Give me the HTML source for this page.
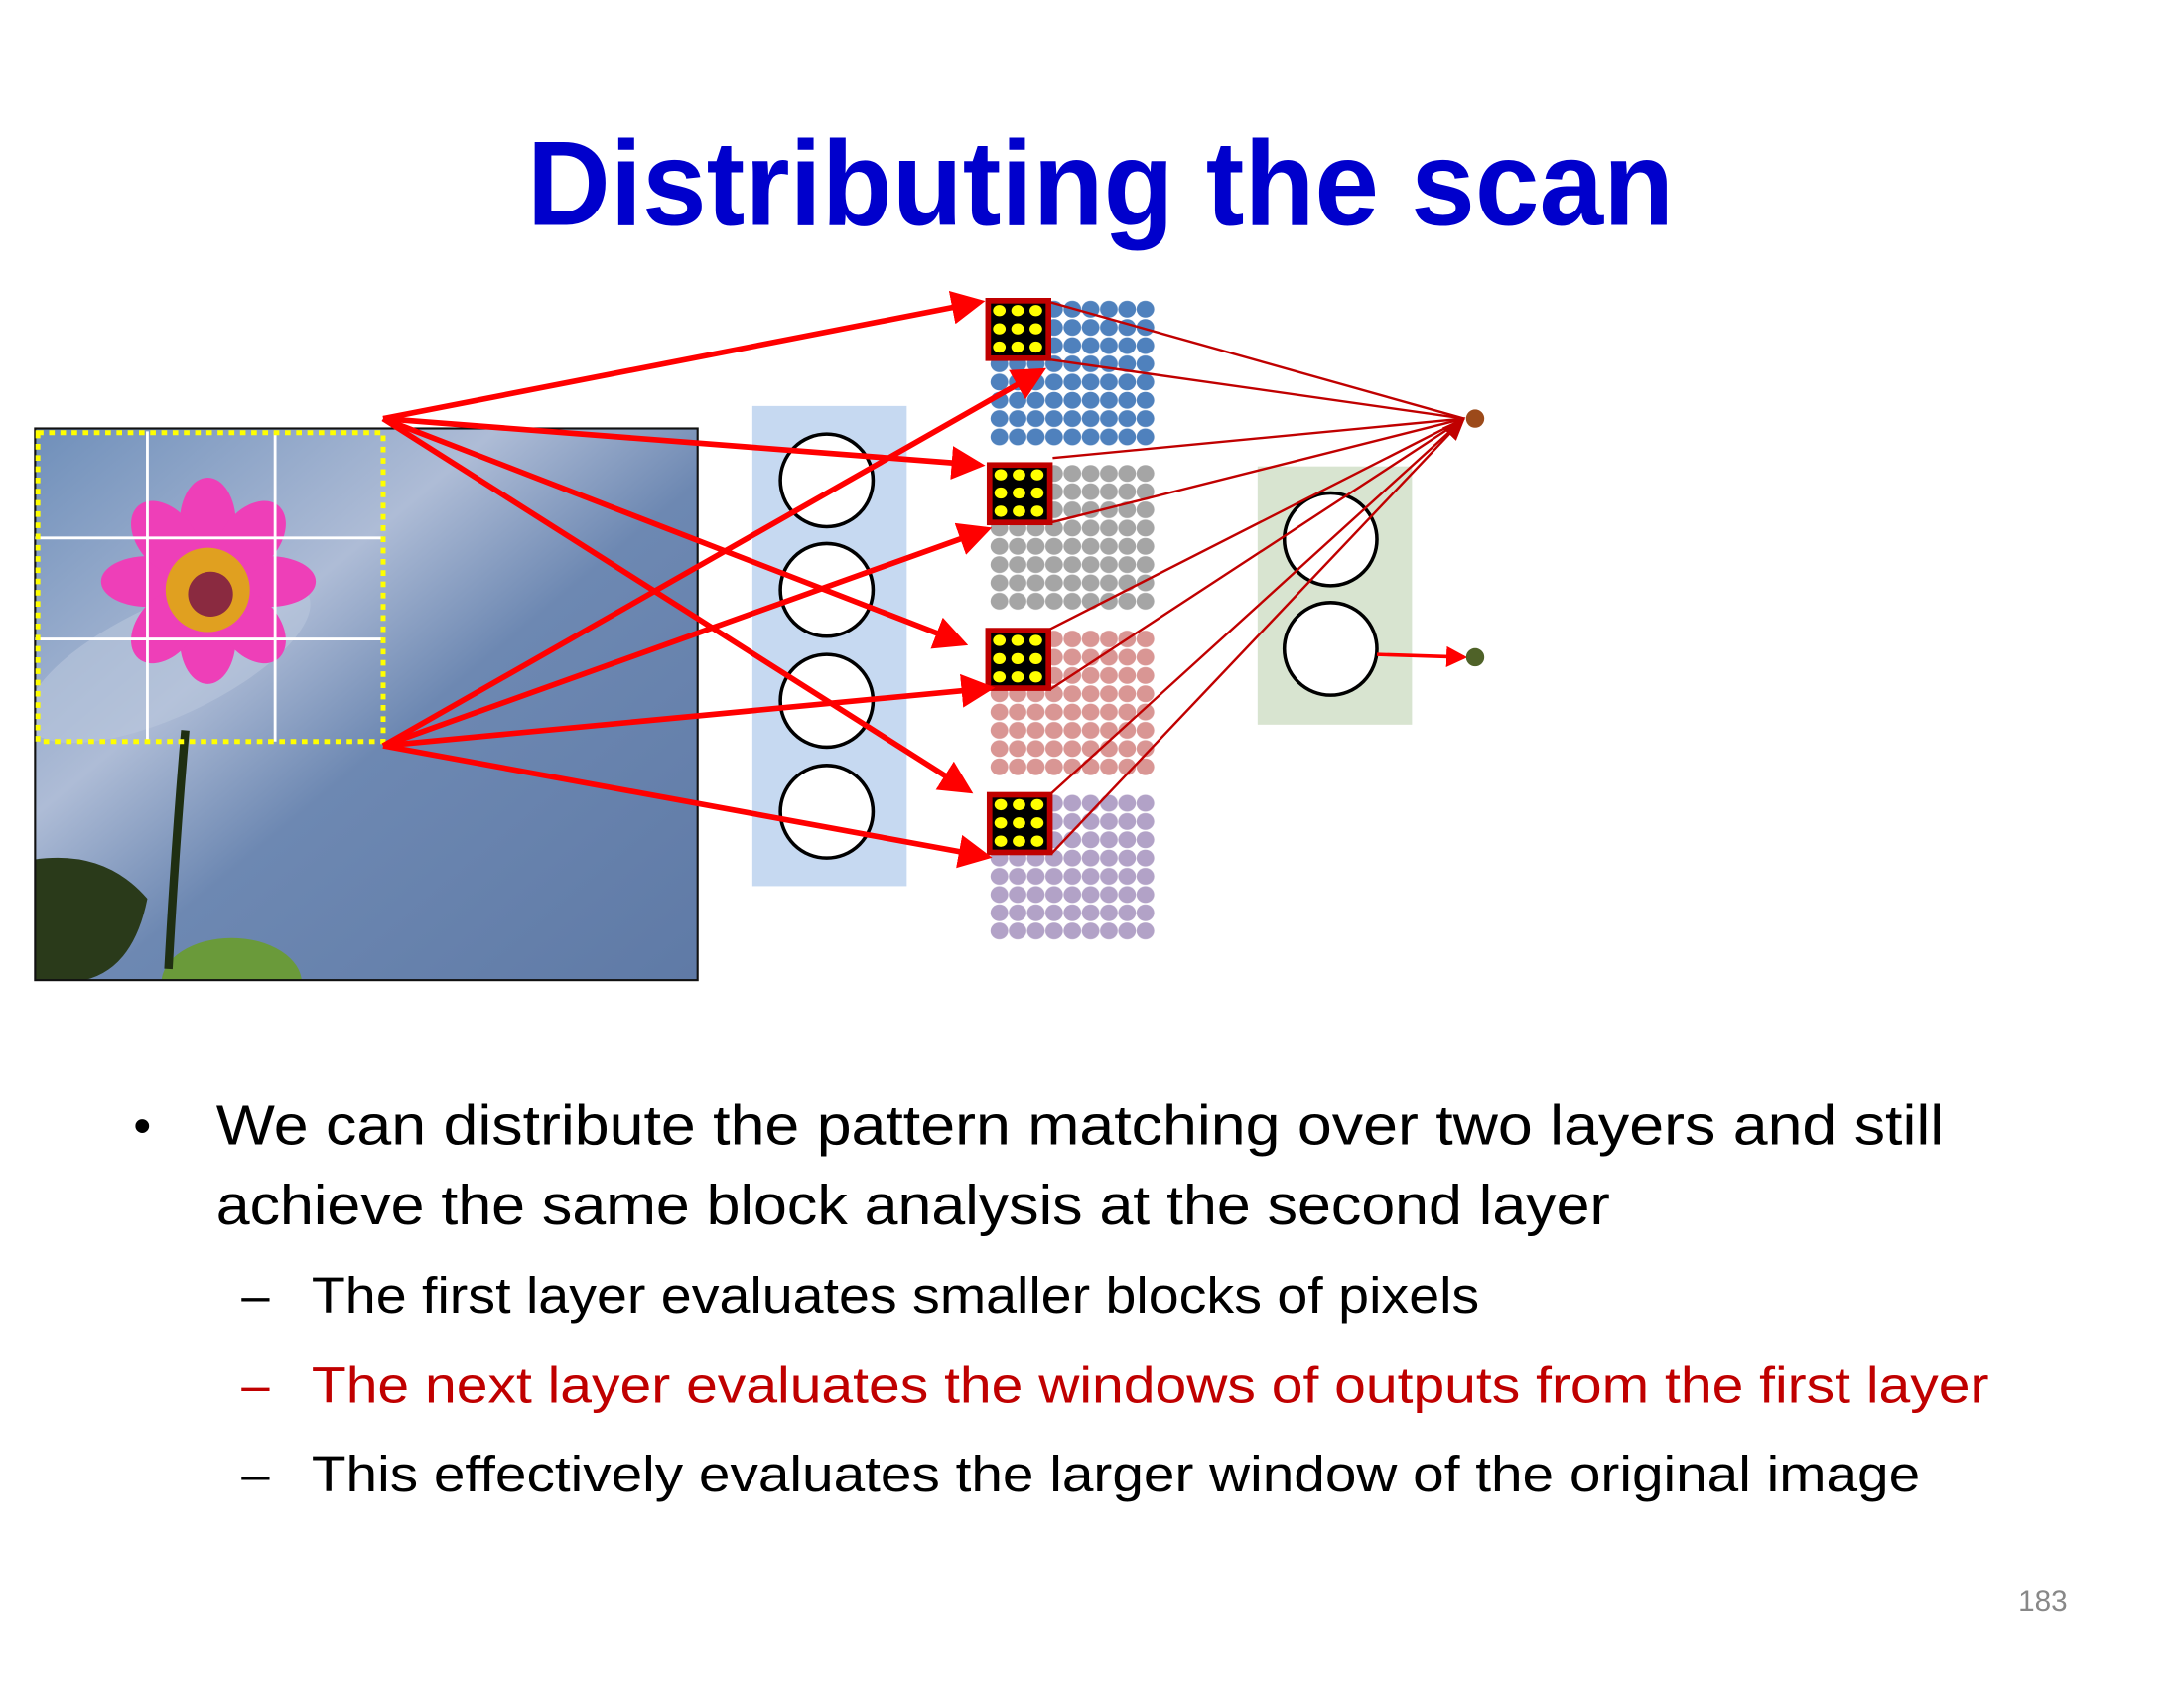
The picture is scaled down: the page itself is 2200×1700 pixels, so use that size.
<!DOCTYPE html>
<html><head><meta charset="utf-8"><style>html,body{margin:0;padding:0;background:#fff}svg{display:block}</style></head>
<body>
<svg width="2200" height="1700" viewBox="0 0 1556 1202" xmlns="http://www.w3.org/2000/svg" font-family="'Liberation Sans', sans-serif">
<defs>
<linearGradient id="sky" x1="0" y1="0" x2="1" y2="1">
<stop offset="0" stop-color="#6f8fba"/><stop offset="0.35" stop-color="#aebcd6"/><stop offset="0.55" stop-color="#6d88b2"/><stop offset="1" stop-color="#5f7aa6"/></linearGradient>
<clipPath id="imgclip"><rect x="25" y="305" width="472" height="393"/></clipPath>
<pattern id="pb" patternUnits="userSpaceOnUse" x="705.5" y="213.5" width="13" height="13"><ellipse cx="6.5" cy="6.5" rx="6.3" ry="6" fill="#4f81bd"/></pattern>
<pattern id="pg" patternUnits="userSpaceOnUse" x="705.5" y="330.5" width="13" height="13"><ellipse cx="6.5" cy="6.5" rx="6.3" ry="6" fill="#a5a5a5"/></pattern>
<pattern id="pp" patternUnits="userSpaceOnUse" x="705.5" y="448.5" width="13" height="13"><ellipse cx="6.5" cy="6.5" rx="6.3" ry="6" fill="#d99694"/></pattern>
<pattern id="pv" patternUnits="userSpaceOnUse" x="705.5" y="565.5" width="13" height="13"><ellipse cx="6.5" cy="6.5" rx="6.3" ry="6" fill="#b2a2c7"/></pattern>
<g id="yd" fill="#ffff00">
<ellipse cx="0" cy="0" rx="4.5" ry="4"/><ellipse cx="13" cy="0" rx="4.5" ry="4"/><ellipse cx="26" cy="0" rx="4.5" ry="4"/>
<ellipse cx="0" cy="13" rx="4.5" ry="4"/><ellipse cx="13" cy="13" rx="4.5" ry="4"/><ellipse cx="26" cy="13" rx="4.5" ry="4"/>
<ellipse cx="0" cy="26" rx="4.5" ry="4"/><ellipse cx="13" cy="26" rx="4.5" ry="4"/><ellipse cx="26" cy="26" rx="4.5" ry="4"/>
</g>
<marker id="ah" markerWidth="6" markerHeight="6" refX="5" refY="3" orient="auto" markerUnits="strokeWidth"><path d="M0,0 L6,3 L0,6 z" fill="#ff0000"/></marker>
<marker id="ah2" markerWidth="10" markerHeight="8" refX="9" refY="4" orient="auto" markerUnits="strokeWidth"><path d="M0,0 L10,4 L0,8 z" fill="#c00000"/></marker>
</defs>

<text x="784" y="160" text-anchor="middle" font-size="86" font-weight="bold" fill="#0000cc" textLength="817" lengthAdjust="spacingAndGlyphs">Distributing the scan</text>

<!-- image -->
<g clip-path="url(#imgclip)">
<rect x="25" y="305" width="472" height="393" fill="url(#sky)"/>
<ellipse cx="120" cy="470" rx="110" ry="40" fill="#b9c6dc" opacity="0.6" transform="rotate(-25 120 470)"/>
<path d="M25,612 Q75,605 105,640 Q95,690 60,698 L25,698 Z" fill="#2a3a1a"/>
<ellipse cx="165" cy="700" rx="50" ry="32" fill="#6a9a3a"/>
<path d="M132,520 Q125,600 120,690" stroke="#1f2f12" stroke-width="6" fill="none"/>
<g fill="#ee3fb8">
<ellipse cx="148" cy="372" rx="20" ry="32"/><ellipse cx="148" cy="455" rx="20" ry="32"/>
<ellipse cx="105" cy="414" rx="33" ry="18"/><ellipse cx="192" cy="414" rx="33" ry="18"/>
<ellipse cx="118" cy="383" rx="20" ry="30" transform="rotate(-40 118 383)"/><ellipse cx="179" cy="383" rx="20" ry="30" transform="rotate(40 179 383)"/>
<ellipse cx="118" cy="446" rx="20" ry="30" transform="rotate(40 118 446)"/><ellipse cx="179" cy="446" rx="20" ry="30" transform="rotate(-40 179 446)"/>
</g>
<circle cx="148" cy="420" r="30" fill="#e0a020"/>
<circle cx="150" cy="423" r="16" fill="#8a2a40"/>
</g>
<rect x="25" y="305" width="472" height="393" fill="none" stroke="#111" stroke-width="1.5"/>
<g stroke="#fff" stroke-width="2"><line x1="105" y1="307" x2="105" y2="528"/><line x1="196" y1="307" x2="196" y2="528"/><line x1="25" y1="383" x2="273" y2="383"/><line x1="25" y1="455" x2="273" y2="455"/></g>
<rect x="27" y="308" width="246" height="220" fill="none" stroke="#ffff00" stroke-width="3.5" stroke-dasharray="4,4"/>

<!-- layer 1 -->
<rect x="536" y="289" width="110" height="342" fill="#c6d9f1"/>
<g fill="#fff" stroke="#000" stroke-width="2.5">
<circle cx="589" cy="342" r="33"/><circle cx="589" cy="420" r="33"/><circle cx="589" cy="499" r="33"/><circle cx="589" cy="578" r="33"/>
</g>

<!-- dot grids -->
<rect x="705.5" y="213.5" width="117" height="104" fill="url(#pb)"/>
<rect x="705.5" y="330.5" width="117" height="104" fill="url(#pg)"/>
<rect x="705.5" y="448.5" width="117" height="104" fill="url(#pp)"/>
<rect x="705.5" y="565.5" width="117" height="104" fill="url(#pv)"/>

<!-- layer 2 -->
<rect x="896" y="332" width="110" height="184" fill="#d8e4d0"/>
<g fill="#fff" stroke="#000" stroke-width="2.5"><ellipse cx="948" cy="384" rx="33" ry="33"/><ellipse cx="948" cy="462" rx="33" ry="33"/></g>

<!-- boxes -->
<g stroke="#c00000" stroke-width="4" fill="#000">
<rect x="704" y="214" width="43" height="41"/><rect x="705" y="331" width="43" height="41"/>
<rect x="704" y="449" width="43" height="41"/><rect x="705" y="566" width="43" height="41"/>
</g>
<use href="#yd" x="712" y="221"/>
<use href="#yd" x="713" y="338"/>
<use href="#yd" x="712" y="456"/>
<use href="#yd" x="713" y="573"/>

<!-- thin lines to output -->
<g stroke="#c00000" stroke-width="1.7" fill="none">
<line x1="748" y1="215" x2="1043" y2="298"/><line x1="748" y1="256" x2="1043" y2="298"/>
<line x1="750" y1="326" x2="1043" y2="298"/><line x1="749" y1="372" x2="1043" y2="298"/>
<line x1="748" y1="448" x2="1043" y2="298"/><line x1="748" y1="491" x2="1043" y2="298"/>
<line x1="749" y1="565" x2="1043" y2="298"/><line x1="749" y1="608" x2="1043" y2="298" marker-end="url(#ah2)"/>
</g>
<line x1="981" y1="466" x2="1043" y2="468" stroke="#ff0000" stroke-width="2.5" marker-end="url(#ah)"/>
<circle cx="1051" cy="298" r="6.5" fill="#9c4a1a"/>
<circle cx="1051" cy="468" r="6.5" fill="#4f6228"/>

<!-- thick arrows -->
<g stroke="#ff0000" stroke-width="4" fill="none" marker-end="url(#ah)">
<line x1="273" y1="298" x2="698" y2="215"/><line x1="273" y1="298" x2="698" y2="331"/>
<line x1="273" y1="298" x2="686" y2="458"/><line x1="273" y1="298" x2="690" y2="563"/>
<line x1="273" y1="531" x2="742" y2="264"/><line x1="273" y1="531" x2="703" y2="377"/>
<line x1="273" y1="531" x2="705" y2="490"/><line x1="273" y1="531" x2="703" y2="610"/>
</g>

<!-- text -->
<text x="95" y="814" font-size="36" fill="#000">•</text>
<text x="154" y="815" font-size="40" fill="#000" textLength="1231" lengthAdjust="spacingAndGlyphs">We can distribute the pattern matching over two layers and still</text>
<text x="154" y="872" font-size="40" fill="#000" textLength="993" lengthAdjust="spacingAndGlyphs">achieve the same block analysis at the second layer</text>
<text x="172" y="935" font-size="36" fill="#000">–</text>
<text x="222" y="935" font-size="36" fill="#000" textLength="832" lengthAdjust="spacingAndGlyphs">The first layer evaluates smaller blocks of pixels</text>
<text x="172" y="999" font-size="36" fill="#c00000">–</text>
<text x="222" y="999" font-size="36" fill="#c00000" textLength="1195" lengthAdjust="spacingAndGlyphs">The next layer evaluates the windows of outputs from the first layer</text>
<text x="172" y="1062" font-size="36" fill="#000">–</text>
<text x="222" y="1062" font-size="36" fill="#000" textLength="1146" lengthAdjust="spacingAndGlyphs">This effectively evaluates the larger window of the original image</text>
<text x="1473" y="1147" font-size="21" fill="#888" text-anchor="end">183</text>
</svg>
</body></html>
